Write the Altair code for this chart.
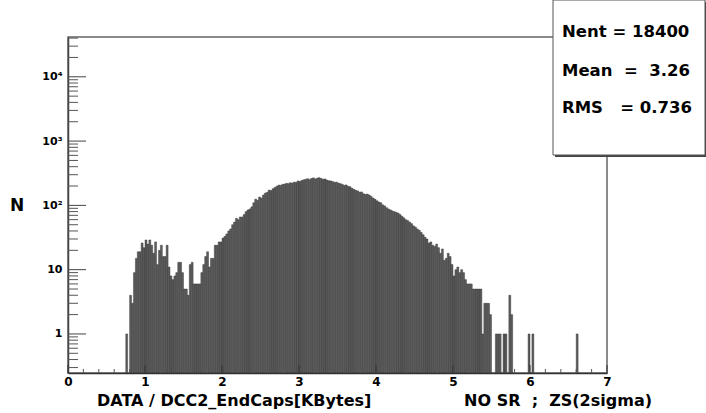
import altair as alt
import pandas as pd

# ---------------- data ----------------
BIN_START = 0.75
BIN_WIDTH = 0.025
counts = [
    1, 0, 4, 3, 9, 15, 19, 19, 26, 22,            # 0.750 - 0.975
    29, 25, 29, 24, 18, 27, 12, 20, 24, 16,       # 1.000 - 1.225
    16, 24, 11, 8, 7, 8, 9, 13, 13, 9,            # 1.250 - 1.475
    5, 5, 4, 12, 13, 6, 6, 6, 6, 9,               # 1.500 - 1.725
    12, 16, 19, 11, 15, 15, 24, 24, 27, 27,       # 1.750 - 1.975
    31, 33, 36, 40, 43, 50, 55, 63, 60, 66,       # 2.000 - 2.225
    66, 72, 80, 85, 88, 95, 110, 125, 120, 135,   # 2.250 - 2.475
    130, 145, 155, 160, 173, 170, 182, 190, 198, 207,  # 2.500 - 2.725
    205, 212, 215, 220, 218, 225, 222, 230, 228, 240,  # 2.750 - 2.975
    236, 245, 250, 255, 260, 252, 262, 268, 258, 265,  # 3.000 - 3.225
    270, 262, 255, 258, 248, 242, 240, 235, 228, 230,  # 3.250 - 3.475
    222, 218, 212, 205, 208, 198, 195, 185, 178, 172,  # 3.500 - 3.725
    168, 160, 162, 152, 148, 150, 145, 138, 130, 125,  # 3.750 - 3.975
    118, 113, 110, 102, 98, 92, 88, 85, 82, 80,   # 4.000 - 4.225
    78, 76, 72, 68, 64, 60, 58, 55, 52, 48,       # 4.250 - 4.475
    46, 43, 41, 38, 35, 32, 30, 26, 27, 24,       # 4.500 - 4.725
    23, 25, 22, 18, 21, 14, 15, 18, 16, 12,       # 4.750 - 4.975
    8, 10, 11, 9, 10, 9, 7, 6, 6, 6,              # 5.000 - 5.225
    5, 5, 5, 5, 5, 1, 3, 3, 3, 2,                 # 5.250 - 5.475
    0, 0, 1, 1, 1, 0, 1, 1, 0, 4,                 # 5.500 - 5.725
    2, 0, 0, 0, 0, 0, 0, 0, 0, 1,                 # 5.750 - 5.975
    0, 1, 0, 0, 0, 0, 0, 0, 0, 0,                 # 6.000 - 6.225
    0, 0, 0, 0, 0, 0, 0, 0, 0, 0,                 # 6.250 - 6.475
    0, 0, 0, 0, 1, 0, 0, 0, 0, 0,                 # 6.500 - 6.725
]

x_label_values = [0, 1, 2, 3, 4, 5, 6, 7]
x_minor_ticks = [0.2, 0.4, 0.6, 0.8, 1.2, 1.4, 1.6, 1.8, 2.2, 2.4, 2.6, 2.8,
                 3.2, 3.4, 3.6, 3.8, 4.2, 4.4, 4.6, 4.8, 5.2, 5.4, 5.6, 5.8,
                 6.2, 6.4, 6.6, 6.8]
y_label_values = [1, 10, 100, 1000, 10000]
y_minor_ticks = [m * 10 ** e for e in range(-1, 5) for m in range(2, 10)
                 if 0.25 <= m * 10 ** e <= 41000]

stats_lines = ["Nent\u00a0=\u00a018400",
               "Mean\u00a0\u00a0=\u00a0\u00a03.26",
               "RMS\u00a0\u00a0\u00a0=\u00a00.736"]
x_title_left = "DATA / DCC2_EndCaps[KBytes]"
x_title_right = "NO\u00a0SR\u00a0\u00a0;\u00a0\u00a0ZS(2sigma)"
y_title = "N"

# ---------------- layout ----------------
W, H = 539, 336
FONT = "DejaVu Sans"

bars_df = pd.DataFrame([
    {"lo": round(BIN_START + i * BIN_WIDTH, 4),
     "hi": round(BIN_START + (i + 1) * BIN_WIDTH, 4),
     "n": c}
    for i, c in enumerate(counts) if c > 0
])

xscale = alt.Scale(domain=[0, 7], nice=False, zero=False)
yscale = alt.Scale(type="log", domain=[0.247, 41600], nice=False)

label_expr = ("datum.value >= 10000 ? '10\u2074' : datum.value >= 1000 ? '10\u00b3' : "
              "datum.value >= 100 ? '10\u00b2' : datum.value >= 10 ? '10\u2002' : '1\u2002'")

xaxis = alt.Axis(values=x_label_values, ticks=False, grid=False, title=None,
                 labelFont=FONT, labelFontSize=12, labelFontWeight="bold",
                 labelColor="black", labelPadding=3, labelFlush=False,
                 domainColor="#333333", domainWidth=1.5, format="d")
yaxis = alt.Axis(values=y_label_values, ticks=False, grid=False, title=None,
                 labelExpr=label_expr, labelFont=FONT, labelFontSize=11,
                 labelFontWeight="bold", labelColor="black", labelPadding=6,
                 labelOverlap=False, domainColor="#444444", domainWidth=1.5)

bars = alt.Chart(bars_df).mark_rect(
    fill="#5e5e5e", stroke="#2a2a2a", strokeWidth=0.4
).encode(
    x=alt.X("lo:Q", scale=xscale, axis=xaxis),
    x2="hi:Q",
    y=alt.Y("n:Q", scale=yscale, axis=yaxis),
    y2=alt.value(H),
)

xmaj = alt.Chart(pd.DataFrame({"t": x_label_values})).mark_rule(
    color="#333333", strokeWidth=1).encode(
    x=alt.X("t:Q", scale=xscale, axis=xaxis), y=alt.value(H), y2=alt.value(H - 8))
xmin = alt.Chart(pd.DataFrame({"t": x_minor_ticks})).mark_rule(
    color="#555555", strokeWidth=1).encode(
    x=alt.X("t:Q", scale=xscale, axis=xaxis), y=alt.value(H), y2=alt.value(H - 4))
ymaj = alt.Chart(pd.DataFrame({"v": y_label_values})).mark_rule(
    color="#444444", strokeWidth=1).encode(
    y=alt.Y("v:Q", scale=yscale, axis=yaxis), x=alt.value(0), x2=alt.value(18))
ymin = alt.Chart(pd.DataFrame({"v": y_minor_ticks})).mark_rule(
    color="#555555", strokeWidth=1).encode(
    y=alt.Y("v:Q", scale=yscale, axis=yaxis), x=alt.value(0), x2=alt.value(10))

one = pd.DataFrame({"a": [0]})
shadow = alt.Chart(one).mark_rect(fill="#444444").encode(
    x=alt.value(487), x2=alt.value(639), y=alt.value(-35), y2=alt.value(120))
box = alt.Chart(one).mark_rect(fill="white", stroke="#555555", strokeWidth=1).encode(
    x=alt.value(485), x2=alt.value(637), y=alt.value(-37), y2=alt.value(118))

stats_df = pd.DataFrame({"line": stats_lines, "yb": [0, 39, 76]})
stats_t = alt.Chart(stats_df).mark_text(
    font=FONT, fontSize=16.5, fontWeight="bold", align="left", baseline="alphabetic",
    color="black").encode(
    x=alt.value(494), y=alt.Y("yb:Q", scale=None), text="line:N")

xt_left = alt.Chart(one).mark_text(
    font=FONT, fontSize=16, fontWeight="bold", align="left", baseline="alphabetic",
    color="black", text=x_title_left).encode(x=alt.value(29), y=alt.value(369))
xt_right = alt.Chart(one).mark_text(
    font=FONT, fontSize=16, fontWeight="bold", align="right", baseline="alphabetic",
    color="black", text=x_title_right).encode(x=alt.value(584), y=alt.value(369))
yt = alt.Chart(one).mark_text(
    font=FONT, fontSize=17, fontWeight="bold", align="center", baseline="alphabetic",
    color="black", text=y_title).encode(x=alt.value(-51), y=alt.value(174))

chart = alt.layer(
    bars, xmaj, xmin, ymaj, ymin, shadow, box, stats_t,
    xt_left, xt_right, yt
).properties(
    width=W, height=H,
    autosize=alt.AutoSizeParams(type="none"),
    padding={"left": 68, "top": 37, "right": 99, "bottom": 40},
    background="white",
).configure_view(stroke="#666666", strokeWidth=1.5)

chart.save("out.html", embed_options={"renderer": "svg", "actions": False})
